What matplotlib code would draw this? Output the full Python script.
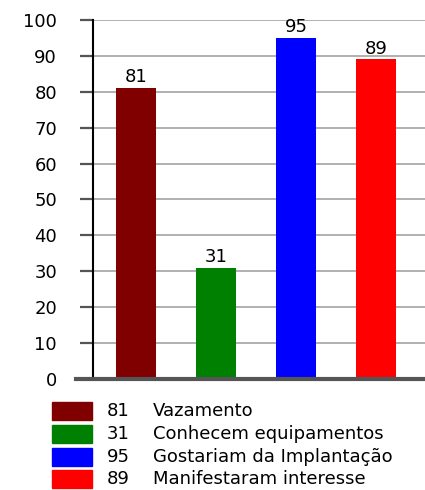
import matplotlib.pyplot as plt
from matplotlib.patches import Rectangle

# chart data
labels = ['Vazamento', 'Conhecem equipamentos', 'Gostariam da Implantação', 'Manifestaram interesse']
values = [81, 31, 95, 89]
colors = ['#800000', '#008000', '#0000ff', '#ff0000']
yticks = [0, 10, 20, 30, 40, 50, 60, 70, 80, 90, 100]

fig = plt.figure(figsize=(4.25, 4.9), dpi=100)
ax = fig.add_axes([93 / 425, 1 - 379 / 490, 1 - 93 / 425, 359 / 490])

x = list(range(len(values)))
ax.bar(x, values, width=0.5, color=colors, zorder=3)
for xi, v in zip(x, values):
    ax.text(xi, v + 0.5, str(v), ha='center', va='bottom', fontsize=13, zorder=4)

ax.set_xlim(-0.54, 3.61)
ax.set_ylim(0, 100)
ax.set_yticks(yticks)
ax.set_xticks([])
ax.yaxis.grid(True, color='#aaaaaa', linewidth=1.3, zorder=0)
ax.tick_params(axis='y', length=9.4, width=1.6, color='#555555', labelsize=13, pad=16.5)
for side in ['top', 'right', 'bottom']:
    ax.spines[side].set_visible(False)
ax.spines['left'].set_linewidth(1.5)
ax.spines['left'].set_color('black')
ax.axhline(0, xmin=-0.05, xmax=1, color='#555555', linewidth=3, clip_on=False, zorder=5)

# legend drawn by hand (last row kept inside the figure)
row_y = [411, 434, 457, 479]
for yy, v, lab, c in zip(row_y, values, labels, colors):
    fy = 1 - yy / 490
    fig.patches.append(Rectangle((52 / 425, fy - 9 / 490), 40 / 425, 18 / 490,
                                 transform=fig.transFigure, color=c))
    fig.text(130 / 425, fy, str(v), ha='right', va='center', fontsize=13)
    fig.text(153 / 425, fy, lab, ha='left', va='center', fontsize=13)

fig.savefig('out.png', dpi=100)
